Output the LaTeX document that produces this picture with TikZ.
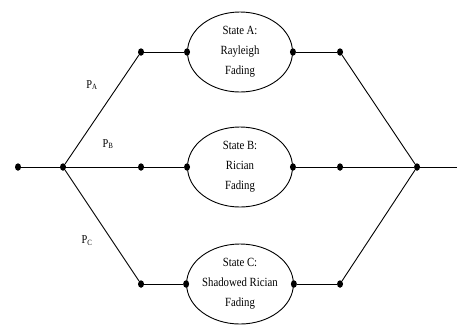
\documentclass[tikz,border=0pt]{standalone}
\usepackage{fontspec}
\setmainfont{Liberation Serif}[FakeStretch=0.86]
\usetikzlibrary{shapes.geometric}
\begin{document}
\begin{tikzpicture}[x=1pt,y=-1pt,
  dot/.style={ellipse,fill=black,inner sep=0pt,minimum width=6pt,minimum height=7.5pt},
  state/.style={ellipse,draw,line width=0.9pt,minimum width=105pt,minimum height=80pt,inner sep=0pt,align=center,font=\fontsize{12.5}{20}\selectfont},
  wire/.style={line width=0.9pt},
  lab/.style={font=\fontsize{12}{12}\selectfont,inner sep=0pt}]
\useasboundingbox (0,0) rectangle (457,325);
\node[dot] (L) at (18,167) {};
\node[dot] (S) at (63,167) {};
\node[dot] (a1) at (141,52) {};
\node[dot] (b1) at (141,167) {};
\node[dot] (c1) at (141,284) {};
\node[state] (EA) at (240,52) {State A:\\Rayleigh\\Fading};
\node[state] (EB) at (240,167) {State B:\\Rician\\Fading};
\node[state] (EC) at (240,284) {State C:\\Shadowed Rician\\Fading};
\node[dot] (EAw) at (EA.west) {};
\node[dot] (EAe) at (EA.east) {};
\node[dot] (EBw) at (EB.west) {};
\node[dot] (EBe) at (EB.east) {};
\node[dot] (ECw) at (EC.west) {};
\node[dot] (ECe) at (EC.east) {};
\node[dot] (a2) at (340,52) {};
\node[dot] (b2) at (340,167) {};
\node[dot] (c2) at (340,284) {};
\node[dot] (M) at (417,167) {};
\coordinate (R) at (457,167);
\draw[wire] (L) -- (S);
\draw[wire] (S) -- (a1);
\draw[wire] (S) -- (b1);
\draw[wire] (S) -- (c1);
\draw[wire] (a1) -- (EAw);
\draw[wire] (b1) -- (EBw);
\draw[wire] (c1) -- (ECw);
\draw[wire] (EAe) -- (a2);
\draw[wire] (EBe) -- (b2);
\draw[wire] (ECe) -- (c2);
\draw[wire] (a2) -- (M);
\draw[wire] (b2) -- (M);
\draw[wire] (c2) -- (M);
\draw[wire] (M) -- (R);
\node[lab] (pA) at (92,85) {P\textsubscript{A}};
\node[lab] (pB) at (108,144) {P\textsubscript{B}};
\node[lab] (pC) at (87,241) {P\textsubscript{C}};
\end{tikzpicture}
\end{document}
